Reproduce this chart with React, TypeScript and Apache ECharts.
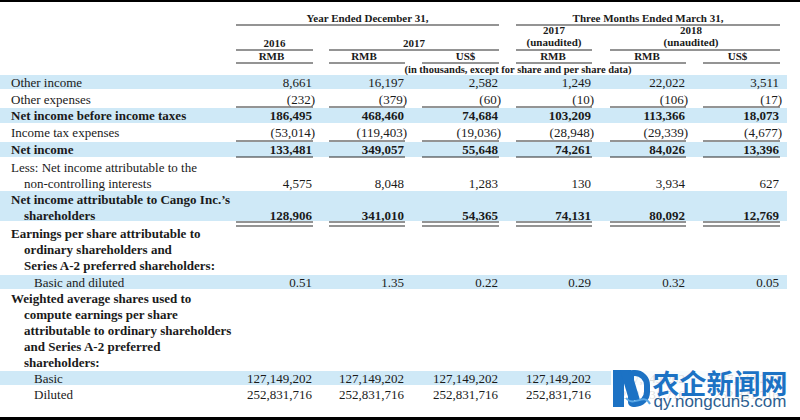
import React, { useEffect, useRef } from "react";
import * as echarts from "echarts";

// ---------- data ----------
const rowLabels: string[] = [
  "Other income",
  "Other expenses",
  "Net income before income taxes",
  "Income tax expenses",
  "Net income",
  "Less: Net income attributable to the",
  "non-controlling interests",
  "Net income attributable to Cango Inc.\u2019s",
  "shareholders",
  "Earnings per share attributable to",
  "ordinary shareholders and",
  "Series A-2 preferred shareholders:",
  "Basic and diluted",
  "Weighted average shares used to",
  "compute earnings per share",
  "attributable to ordinary shareholders",
  "and Series A-2 preferred",
  "shareholders:",
  "Basic",
  "Diluted",
];

// rows (index into rowLabels) that carry values
const valueRows: number[] = [0, 1, 2, 3, 4, 6, 8, 12, 18, 19];

const col2016Rmb: number[] = [8661, -232, 186495, -53014, 133481, 4575, 128906, 0.51, 127149202, 252831716];
const col2017Rmb: number[] = [16197, -379, 468460, -119403, 349057, 8048, 341010, 1.35, 127149202, 252831716];
const col2017Usd: number[] = [2582, -60, 74684, -19036, 55648, 1283, 54365, 0.22, 127149202, 252831716];
const colQ2017Rmb: number[] = [1249, -10, 103209, -28948, 74261, 130, 74131, 0.29, 127149202, 252831716];
const colQ2018Rmb: number[] = [22022, -106, 113366, -29339, 84026, 3934, 80092, 0.32, 127149202, 252831716];
const colQ2018Usd: number[] = [3511, -17, 18073, -4677, 13396, 627, 12769, 0.05, 127149202, 252831716];

const currencyLabels: string[] = ["RMB", "RMB", "US$", "RMB", "RMB", "US$"];
const groupTitles: string[] = ["Year Ended December 31,", "Three Months Ended March 31,"];
const yearLabels: string[] = ["2016", "2017", "2017", "2018"];
const unauditedLabel = "(unaudited)";
const unitNote = "(in thousands, except for share and per share data)";
const watermarkCn = "农企新闻网";
const watermarkUrl = "qy.nongcun5.com";

// ---------- styling / layout ----------
const boldRows = new Set([2, 4, 7, 8, 9, 10, 11, 13, 14, 15, 16, 17]);
const boldValueRows = new Set([2, 4, 8]);
const indent1 = new Set([6, 8, 10, 11, 14, 15, 16, 17]);
const indent2 = new Set([12, 18, 19]);
const rowY = [82, 99, 115, 132, 149, 167, 183, 199, 215, 233, 249, 265, 282, 298, 314, 330, 346, 362, 378, 394];
const bands: [number, number][] = [[75, 89], [108, 123], [142, 157], [191, 221], [275, 289], [371, 385]];
const colLeft = [236, 329, 422, 516, 610, 703];
const colRight = [313, 405, 499, 592, 686, 780];
const singleRules: Record<number, number> = { 1: 107, 3: 141, 4: 157 };
const doubleRule = { row: 8, y1: 222, y2: 226 };

const SERIF = "'Liberation Serif', 'Times New Roman', serif";
const INK = "#1a1a1a";
const BAND = "#cfe9f7";

function fmt(v: number): string {
  const a = Math.abs(v);
  const s = Number.isInteger(a) ? a.toLocaleString("en-US") : a.toFixed(2);
  return v < 0 ? `(${s})` : s;
}

export default function App() {
  const ref = useRef<HTMLDivElement>(null);

  useEffect(() => {
    document.body.style.margin = "0";
    if (!ref.current) return;
    const chart = echarts.init(ref.current, undefined, { renderer: "svg" });
    const els: any[] = [];

    els.push({ type: "rect", shape: { x: 0, y: 0, width: 800, height: 420 }, style: { fill: "#fff" } });

    bands.forEach(([a, b]) =>
      els.push({ type: "rect", shape: { x: 0, y: a, width: 787, height: b - a }, style: { fill: BAND } })
    );

    els.push({ type: "rect", shape: { x: 0, y: 0, width: 800, height: 2 }, style: { fill: "#000" } });
    els.push({ type: "rect", shape: { x: 0, y: 417, width: 800, height: 3 }, style: { fill: "#000" } });

    const hline = (x1: number, x2: number, y: number, w = 1.2) =>
      els.push({ type: "line", shape: { x1, y1: y, x2, y2: y }, style: { stroke: "#2a2a2a", lineWidth: w } });
    const text = (t: string, x: number, y: number, font: string, align = "left", fill = INK) =>
      els.push({
        type: "text",
        style: { text: t, x, y, font, fill, textAlign: align, textVerticalAlign: "middle" },
      });

    const hdrFont = `bold 11px ${SERIF}`;
    text(groupTitles[0], (colLeft[0] + colRight[2]) / 2, 18, hdrFont, "center");
    hline(colLeft[0], colRight[2], 25);
    text(groupTitles[1], (colLeft[3] + colRight[5]) / 2, 18, hdrFont, "center");
    hline(colLeft[3], colRight[5], 25);

    text(yearLabels[0], (colLeft[0] + colRight[0]) / 2, 43, hdrFont, "center");
    hline(colLeft[0], colRight[0], 50);
    text(yearLabels[1], (colLeft[1] + colRight[2]) / 2, 43, hdrFont, "center");
    hline(colLeft[1], colRight[2], 50);
    text(yearLabels[2], (colLeft[3] + colRight[3]) / 2, 30, hdrFont, "center");
    text(unauditedLabel, (colLeft[3] + colRight[3]) / 2, 42, hdrFont, "center");
    hline(colLeft[3], colRight[3], 50);
    text(yearLabels[3], (colLeft[4] + colRight[5]) / 2 - 4, 30, hdrFont, "center");
    text(unauditedLabel, (colLeft[4] + colRight[5]) / 2 - 4, 42, hdrFont, "center");
    hline(colLeft[4], colRight[5], 50);

    const curOffset = [-3, -3, 5, -1, -1, -4];
    currencyLabels.forEach((c, i) => {
      text(c, (colLeft[i] + colRight[i]) / 2 + curOffset[i], 56, hdrFont, "center");
      hline(colLeft[i], colRight[i], 63);
    });
    text(unitNote, 518, 69, `bold 10.5px ${SERIF}`, "center");

    rowLabels.forEach((lab, i) => {
      const x = indent2.has(i) ? 34 : indent1.has(i) ? 24 : 11;
      const font = `${boldRows.has(i) ? "bold " : ""}13px ${SERIF}`;
      text(lab, x, rowY[i], font);
    });

    const cols = [col2016Rmb, col2017Rmb, col2017Usd, colQ2017Rmb, colQ2018Rmb, colQ2018Usd];
    cols.forEach((col, c) => {
      col.forEach((v, k) => {
        const r = valueRows[k];
        const font = `${boldValueRows.has(r) ? "bold " : ""}13px ${SERIF}`;
        const x = colRight[c] - 1 + (v < 0 ? 3 : 0);
        text(fmt(v), x, rowY[r], font, "right");
      });
      Object.keys(singleRules).forEach((rk) => hline(colLeft[c], colRight[c], singleRules[+rk]));
      hline(colLeft[c], colRight[c], doubleRule.y1);
      hline(colLeft[c], colRight[c], doubleRule.y2);
    });

    // watermark
    els.push({ type: "rect", shape: { x: 611, y: 366, width: 179, height: 46 }, style: { fill: "rgba(255,255,255,0.85)" } });
    const BLUE = "#1c72c4";
    els.push({ type: "rect", shape: { x: 613, y: 370, width: 11, height: 37 }, style: { fill: BLUE } });
    els.push({ type: "polygon", shape: { points: [[620, 370], [631, 370], [640, 400], [629, 400]] }, style: { fill: BLUE } });
    els.push({ type: "rect", shape: { x: 631, y: 373, width: 16, height: 31, r: [2, 12, 12, 2] }, style: { fill: "none", stroke: BLUE, lineWidth: 6 } });
    els.push({ type: "bezierCurve", shape: { x1: 626, y1: 398, x2: 650, y2: 404, cpx1: 634, cpy1: 408, cpx2: 644, cpy2: 392 }, style: { stroke: "#5aa8e6", lineWidth: 2, fill: "none" } });
    text(watermarkCn, 720, 382, `bold 27px 'Noto Sans CJK SC', sans-serif`, "center", BLUE);
    text(watermarkUrl, 720, 401, `17px 'Liberation Sans', 'DejaVu Sans', sans-serif`, "center", "#2d5e90");

    chart.setOption({ animation: false, graphic: { elements: els } });
    return () => chart.dispose();
  }, []);

  return <div ref={ref} style={{ width: 800, height: 420 }} />;
}
